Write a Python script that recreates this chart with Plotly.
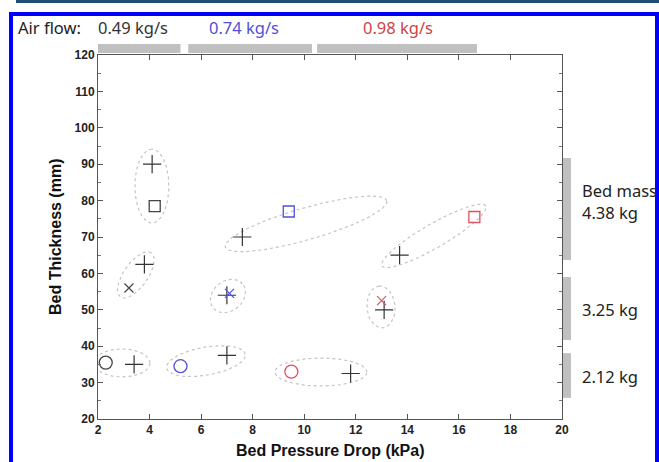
import numpy as np
import plotly.graph_objects as go

# ---- data ----
black_plus_x = [4.1, 3.8, 7.6, 7.0, 13.7, 13.1, 3.4, 7.0, 11.8]
black_plus_y = [90, 62.5, 70, 54, 65, 50, 35, 37.5, 32.5]

square_x = [4.2, 9.4, 16.6]
square_y = [78.5, 77, 75.5]
x_mark_x = [3.2, 7.1, 13.0]
x_mark_y = [56, 54.5, 52.5]
circle_x = [2.3, 5.2, 9.5]
circle_y = [35.5, 34.5, 33]
flow_labels = ["0.49 kg/s", "0.74 kg/s", "0.98 kg/s"]
flow_colors = ["#333333", "#5050d8", "#cc4444"]
flow_ranges = [(2.0, 5.2), (5.5, 10.3), (10.5, 16.7)]
mass_labels = ["4.38 kg", "3.25 kg", "2.12 kg"]
mass_ranges = [(63.7, 91.7), (41.7, 59.0), (25.8, 38.1)]
x_ticks = list(range(2, 21, 2))
y_ticks = list(range(20, 121, 10))

# ellipse groups: centre (data), semi-axes (px), angle (deg)
ell_cx = [4.09, 3.47, 10.07, 7.04, 15.03, 12.98, 2.93, 6.19, 10.65]
ell_cy = [84.0, 59.6, 73.6, 53.8, 70.3, 50.8, 35.4, 35.9, 32.9]
ell_a = [37, 27, 84, 19, 60, 21, 28, 40, 46]
ell_b = [17, 12, 16, 15, 12, 14, 14, 14, 14]
ell_ang = [90, 55, 16, 40, 30, 95, 0, 10, 0]

W, H = 659, 462
L, R, T, B = 98, 562, 55, 419
XMIN, XMAX, YMIN, YMAX = 2, 20, 20, 120
sx = (R - L) / (XMAX - XMIN)
sy = (B - T) / (YMAX - YMIN)


def px(x):
    return (x - L) / (R - L)


def py(y):
    return (B - y) / (B - T)


fig = go.Figure()

t = np.linspace(0, 2 * np.pi, 120)
for cx, cy, a, b, ang in zip(ell_cx, ell_cy, ell_a, ell_b, ell_ang):
    th = np.radians(ang)
    dx = a * np.cos(t) * np.cos(th) - b * np.sin(t) * np.sin(th)
    dy = a * np.cos(t) * np.sin(th) + b * np.sin(t) * np.cos(th)
    fig.add_trace(go.Scatter(x=cx + dx / sx, y=cy + dy / sy, mode="lines",
                             line=dict(color="#c4c4c4", width=1.2, dash="dot"),
                             hoverinfo="skip", showlegend=False))

mcols = ["#444444", "#5050d8", "#e05060"]
fig.add_trace(go.Scatter(x=black_plus_x, y=black_plus_y, mode="markers",
                         marker=dict(symbol="cross-thin-open", size=13, color="#333333",
                                     line=dict(color="#333333", width=1.2)),
                         showlegend=False))
fig.add_trace(go.Scatter(x=square_x, y=square_y, mode="markers",
                         marker=dict(symbol="square-open", size=11, color=mcols,
                                     line=dict(color=mcols, width=1.3)),
                         showlegend=False))
fig.add_trace(go.Scatter(x=x_mark_x, y=x_mark_y, mode="markers",
                         marker=dict(symbol="x-thin-open", size=9, color=mcols,
                                     line=dict(color=mcols, width=1.2)),
                         showlegend=False))
fig.add_trace(go.Scatter(x=circle_x, y=circle_y, mode="markers",
                         marker=dict(symbol="circle-open", size=13, color=mcols,
                                     line=dict(color=mcols, width=1.3)),
                         showlegend=False))

shapes = []
for (x0, x1) in flow_ranges:
    shapes.append(dict(type="rect", xref="x", yref="paper", x0=x0, x1=x1,
                       y0=py(53), y1=py(44), fillcolor="#c0c0c0", line=dict(width=0)))
for (y0, y1) in mass_ranges:
    shapes.append(dict(type="rect", xref="paper", yref="y", x0=px(563), x1=px(571),
                       y0=y0, y1=y1, fillcolor="#c0c0c0", line=dict(width=0)))
shapes.append(dict(type="line", xref="paper", yref="paper", x0=px(16), x1=px(659),
                   y0=py(1.5), y1=py(1.5), line=dict(color="#1f4e79", width=3)))
shapes.append(dict(type="rect", xref="paper", yref="paper", x0=px(11), x1=px(657),
                   y0=py(14), y1=py(470), line=dict(color="#0000ff", width=4)))
fig.update_layout(shapes=shapes)

ann = []
tf = "Liberation Sans, Arial"
lab_font = "Noto Sans, Open Sans"
LS = 16.5
ann.append(dict(x=px(16), y=py(27), xref="paper", yref="paper", text="Air flow:",
                showarrow=False, xanchor="left", yanchor="middle",
                font=dict(family=lab_font, size=LS, color="#222222")))
for lab, col, xl in zip(flow_labels, flow_colors, [96, 207, 361]):
    ann.append(dict(x=px(xl), y=py(27), xref="paper", yref="paper", text=lab,
                    showarrow=False, xanchor="left", yanchor="middle",
                    font=dict(family=lab_font, size=LS, color=col)))
ann.append(dict(x=px(580), y=py(190), xref="paper", yref="paper", text="Bed mass",
                showarrow=False, xanchor="left", yanchor="middle",
                font=dict(family=lab_font, size=LS, color="#222222")))
for lab, yl in zip(mass_labels, [212, 309, 376]):
    ann.append(dict(x=px(580), y=py(yl), xref="paper", yref="paper", text=lab,
                    showarrow=False, xanchor="left", yanchor="middle",
                    font=dict(family=lab_font, size=LS, color="#222222")))
ann.append(dict(x=px(330), y=py(451), xref="paper", yref="paper",
                text="<b>Bed Pressure Drop (kPa)</b>", showarrow=False,
                xanchor="center", yanchor="middle",
                font=dict(family=tf, size=16, color="#111111")))
ann.append(dict(x=px(55), y=py(237), xref="paper", yref="paper",
                text="<b>Bed Thickness (mm)</b>", showarrow=False, textangle=-90,
                xanchor="center", yanchor="middle",
                font=dict(family=tf, size=16, color="#111111")))

fig.update_layout(
    width=W, height=H,
    margin=dict(l=L, r=W - R, t=T, b=H - B),
    paper_bgcolor="white", plot_bgcolor="white",
    annotations=ann,
    xaxis=dict(range=[XMIN, XMAX], tickmode="array", tickvals=x_ticks,
               ticktext=[f"<b>{v}</b>" for v in x_ticks],
               ticks="inside", ticklen=5, tickcolor="#555", showgrid=False,
               zeroline=False, showline=True, linecolor="#555", linewidth=1,
               mirror="ticks", tickfont=dict(family=tf, size=12, color="#222")),
    yaxis=dict(range=[YMIN, YMAX], tickmode="array", tickvals=y_ticks,
               ticktext=[f"<b>{v}</b>" for v in y_ticks],
               ticks="inside", ticklen=5, tickcolor="#555", showgrid=False,
               zeroline=False, showline=True, linecolor="#555", linewidth=1,
               mirror="ticks", minor=dict(ticks="inside", ticklen=3, dtick=5, tickcolor="#777"),
               tickfont=dict(family=tf, size=12, color="#222")),
)

fig.write_html("out.html")
